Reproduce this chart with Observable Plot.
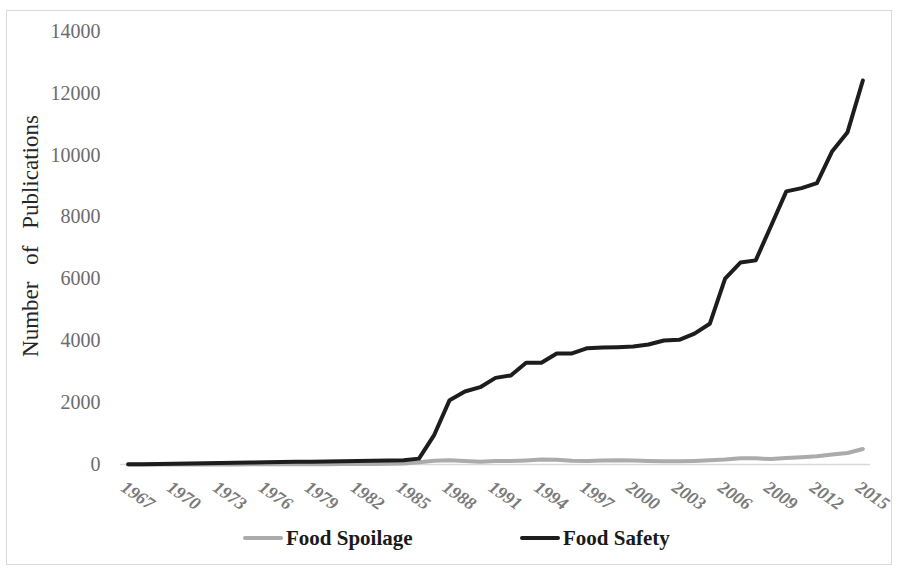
<!DOCTYPE html>
<html>
<head>
<meta charset="utf-8">
<script src="https://cdn.jsdelivr.net/npm/d3@7"></script>
<script src="https://cdn.jsdelivr.net/npm/@observablehq/plot@0.6"></script>
<style>
  html, body { margin: 0; padding: 0; background: #fff; }
  #wrap { position: relative; width: 899px; height: 568px; overflow: hidden; }
  #frame { position: absolute; left: 6px; top: 10px; width: 886px; height: 555px; border: 1px solid #d9d9d9; box-sizing: border-box; }
  #chart { position: absolute; left: 0; top: 0; }
  .leg { position: absolute; top: 526px; font-family: "Liberation Serif", serif; font-weight: bold; font-size: 21px; color: #1a1a1a; line-height: 24px; white-space: nowrap; }
  .sw { position: absolute; top: 536px; height: 4px; border-radius: 2px; }
</style>
</head>
<body>
<div id="wrap">
  <div id="frame"></div>
  <div id="chart"></div>
</div>
<script>
const years = [1967,1968,1969,1970,1971,1972,1973,1974,1975,1976,1977,1978,1979,1980,1981,1982,1983,1984,1985,1986,1987,1988,1989,1990,1991,1992,1993,1994,1995,1996,1997,1998,1999,2000,2001,2002,2003,2004,2005,2006,2007,2008,2009,2010,2011,2012,2013,2014,2015];
const foodSafety = [5,12,18,26,33,40,48,56,63,70,78,85,92,100,107,114,120,126,140,190,960,2080,2360,2500,2800,2880,3290,3290,3590,3590,3760,3780,3795,3815,3880,4010,4030,4230,4550,6010,6530,6600,7710,8830,8935,9095,10130,10745,12415];
const foodSpoilage = [0,1,1,2,2,3,3,4,5,6,7,8,10,12,14,16,20,25,35,70,120,140,110,90,110,110,130,160,150,120,110,130,140,130,115,105,105,115,135,160,200,200,175,210,235,265,320,370,500];
const seriesNames = ["Food Spoilage", "Food Safety"];
const seriesColors = ["#ababab", "#1e1c1d"];
const xTickYears = [1967,1970,1973,1976,1979,1982,1985,1988,1991,1994,1997,2000,2003,2006,2009,2012,2015];
const yTicks = [0,2000,4000,6000,8000,10000,12000,14000];
const yLabel = "Number of Publications";

const spoil = years.map((y, i) => ({year: y, value: foodSpoilage[i]}));
const safety = years.map((y, i) => ({year: y, value: foodSafety[i]}));

const plot = Plot.plot({
  width: 899,
  height: 520,
  marginLeft: 120,
  marginRight: 29,
  marginTop: 31,
  marginBottom: 56,
  style: {fontFamily: "Liberation Serif, serif", background: "transparent", overflow: "visible"},
  x: {domain: [1966.5, 2015.5], axis: null},
  y: {domain: [0, 14000], axis: null},
  marks: [
    Plot.ruleY([0], {stroke: "#d9d9d9", strokeWidth: 1.5}),
    Plot.axisY({ticks: yTicks, tickSize: 0, tickPadding: 20, tickFormat: d => String(d), fontSize: 20, fill: "#6b6b6b", label: null}),
    Plot.text([yLabel], {frameAnchor: "left", dx: -90, dy: -12, rotate: -90, textAnchor: "middle", fontSize: 23, fill: "#262626", text: d => d}),
    Plot.text(xTickYears, {x: d => d, frameAnchor: "bottom", dx: -1, dy: 15, rotate: 35, textAnchor: "start", lineAnchor: "top", fontSize: 18, fontWeight: "bold", fontStyle: "italic", fill: "#7a7a7a", text: d => String(d)}),
    Plot.line(spoil, {x: "year", y: "value", stroke: seriesColors[0], strokeWidth: 4, strokeLinejoin: "round", strokeLinecap: "round"}),
    Plot.line(safety, {x: "year", y: "value", stroke: seriesColors[1], strokeWidth: 4, strokeLinejoin: "round", strokeLinecap: "round"})
  ]
});
plot.querySelectorAll("text").forEach(t => { if (t.textContent === yLabel) t.style.wordSpacing = "11px"; });
document.getElementById("chart").appendChild(plot);

const wrap = document.getElementById("wrap");
const legendPos = [{sw: 243, tx: 286}, {sw: 520, tx: 563}];
seriesNames.forEach((name, i) => {
  const s = document.createElement("div");
  s.className = "sw";
  s.style.left = legendPos[i].sw + "px";
  s.style.width = "40px";
  s.style.background = seriesColors[i];
  wrap.appendChild(s);
  const t = document.createElement("div");
  t.className = "leg";
  t.style.left = legendPos[i].tx + "px";
  t.textContent = name;
  wrap.appendChild(t);
});
</script>
</body>
</html>
